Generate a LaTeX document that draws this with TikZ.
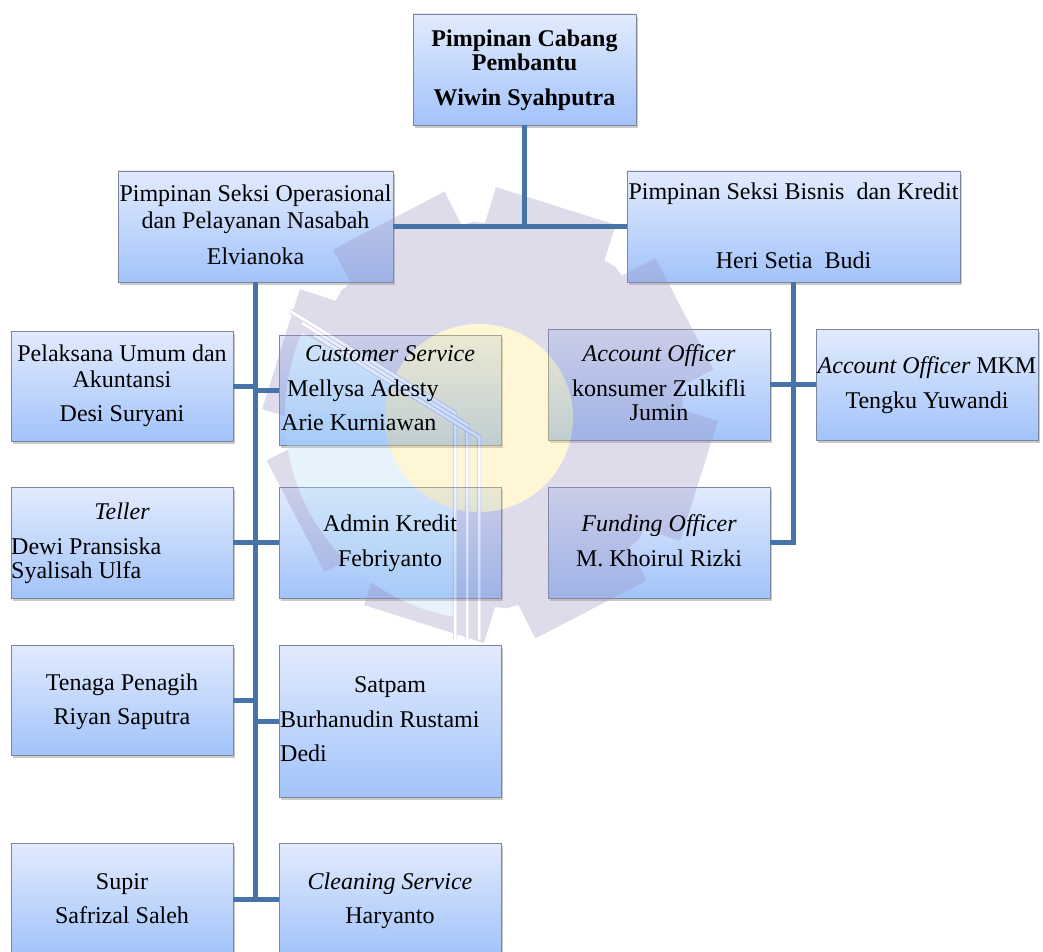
\documentclass[tikz,border=0pt]{standalone}
\usepackage{fontspec}
\setmainfont{Liberation Serif}
\usetikzlibrary{shadows,calc}
\definecolor{lnc}{RGB}{70,115,168}
\definecolor{btop}{RGB}{226,235,253}
\definecolor{bbot}{RGB}{162,195,250}
\definecolor{bbrd}{RGB}{125,135,155}
\definecolor{gearc}{RGB}{155,146,192}
\definecolor{yelc}{RGB}{255,229,127}
\definecolor{lbc}{RGB}{178,218,244}
\definecolor{strc}{RGB}{110,100,170}
\tikzset{
  bx/.style={draw=bbrd, line width=0.8pt, top color=btop, bottom color=bbot, inner sep=0pt,
    drop shadow={shadow xshift=2pt, shadow yshift=-3pt, opacity=0.35, fill=black!60}},
  tx/.style={anchor=base, inner sep=0pt, font=\fontsize{24}{27}\selectfont},
  txl/.style={tx, anchor=base west},
  txb/.style={tx, font=\fontsize{24}{27}\selectfont\bfseries},
  conn/.style={draw=lnc, line width=5pt},
}
\begin{document}
\begin{tikzpicture}[x=1pt,y=-1pt]
\useasboundingbox (0,0) rectangle (1043,952);
% boxes
\node[bx, minimum width=223pt, minimum height=111pt] (top) at (524.5,69.5) {};
\node[bx, minimum width=275pt, minimum height=111pt] (lsec) at (255.5,226.5) {};
\node[bx, minimum width=333pt, minimum height=111pt] (rsec) at (793.5,226.5) {};
\node[bx, minimum width=222pt, minimum height=110pt] (pel) at (122,386) {};
\node[bx, minimum width=222pt, minimum height=110pt] (cs) at (390,390) {};
\node[bx, minimum width=222pt, minimum height=111pt] (aok) at (659,384.5) {};
\node[bx, minimum width=222pt, minimum height=111pt] (aom) at (927,384.5) {};
\node[bx, minimum width=222pt, minimum height=111pt] (tel) at (122,542.5) {};
\node[bx, minimum width=222pt, minimum height=111pt] (adm) at (390,542.5) {};
\node[bx, minimum width=222pt, minimum height=111pt] (fund) at (659,542.5) {};
\node[bx, minimum width=222pt, minimum height=110pt] (ten) at (122,700) {};
\node[bx, minimum width=222pt, minimum height=152pt] (sat) at (390,721) {};
\node[bx, minimum width=222pt, minimum height=112pt] (sup) at (122,899) {};
\node[bx, minimum width=222pt, minimum height=112pt] (cln) at (390,899) {};
% watermark
\begin{scope}[shift={(490,415)}, yscale=-1, transparency group, opacity=0.33]
  \fill[gearc] (72.5-16:228)
    foreach \a in {72.5,117.5,...,432.5} { -- (\a-16:228) -- (\a+16:228) -- (\a+19:192) -- (\a+22.5:194) -- (\a+26:192) } -- cycle;
  \begin{scope}
    \clip (0,0) circle[radius=205];
    \fill[lbc] (-240,110) -- (-35,0) -- (-35,-240) -- (-240,-240) -- cycle;
  \end{scope}
  \fill[yelc] (-11,-3) circle[radius=94];
  \foreach \d in {0,12,24} {
    \draw[strc, line width=0.7pt, double=white, double distance=3pt]
      (-200+\d,104-\d) -- (-35+\d,2-\d) -- (-35+\d,-225);
  }
\end{scope}
% connectors
\draw[conn] (top.south) -- (top.south |- lsec.east);
\draw[conn] (lsec.east) -- (rsec.west);
\draw[conn] (lsec.south) -- (lsec.south |- sup.east);
\draw[conn] (pel.east) -- (pel.east -| lsec.south);
\draw[conn] (cs.west) -- (cs.west -| lsec.south);
\draw[conn] (tel.east) -- (tel.east -| lsec.south);
\draw[conn] (adm.west) -- (adm.west -| lsec.south);
\draw[conn] (ten.east) -- (ten.east -| lsec.south);
\draw[conn] (sat.west) -- (sat.west -| lsec.south);
\draw[conn] (sup.east) -- (sup.east -| lsec.south);
\draw[conn] (cln.west) -- (cln.west -| lsec.south);
\draw[conn] (rsec.south) -- (rsec.south |- fund.east) -- (fund.east);
\draw[conn] (aok.east) -- (aom.west);
% texts
\node[txb] (t1) at (524.5,47) {Pimpinan Cabang};
\node[txb] (t2) at (524.5,71) {Pembantu};
\node[txb] (t3) at (524.5,106) {Wiwin Syahputra};
\node[tx] (l1) at (255.5,201) {Pimpinan Seksi Operasional};
\node[tx] (l2) at (255.5,228) {dan Pelayanan Nasabah};
\node[tx] (l3) at (255.5,264) {Elvianoka};
\node[tx] (r1) at (793.5,199) {Pimpinan Seksi Bisnis\ \ dan Kredit};
\node[tx] (r2) at (793.5,268) {Heri Setia\ \ Budi};
\node[tx] (p1) at (122,361) {Pelaksana Umum dan};
\node[tx] (p2) at (122,387) {Akuntansi};
\node[tx] (p3) at (122,421) {Desi Suryani};
\node[tx] (c1) at (390,361) {\itshape Customer Service};
\node[txl] (c2) at (287,396) {Mellysa Adesty};
\node[txl] (c3) at (281,430) {Arie Kurniawan};
\node[tx] (k1) at (659,361) {\itshape Account Officer};
\node[tx] (k2) at (659,396) {konsumer Zulkifli};
\node[tx] (k3) at (659,420) {Jumin};
\node[tx] (m1) at (927,373) {\itshape Account Officer\upshape\ MKM};
\node[tx] (m2) at (927,408) {Tengku Yuwandi};
\node[tx] (e1) at (122,519) {\itshape Teller};
\node[txl] (e2) at (11,554) {Dewi Pransiska};
\node[txl] (e3) at (11,578) {Syalisah Ulfa};
\node[tx] (a1) at (390,531) {Admin Kredit};
\node[tx] (a2) at (390,566) {Febriyanto};
\node[tx] (f1) at (659,531) {\itshape Funding Officer};
\node[tx] (f2) at (659,566) {M. Khoirul Rizki};
\node[tx] (n1) at (122,690) {Tenaga Penagih};
\node[tx] (n2) at (122,724) {Riyan Saputra};
\node[tx] (s1) at (390,692) {Satpam};
\node[txl] (s2) at (280,727) {Burhanudin Rustami};
\node[txl] (s3) at (280,761) {Dedi};
\node[tx] (u1) at (122,889) {Supir};
\node[tx] (u2) at (122,923) {Safrizal Saleh};
\node[tx] (w1) at (390,889) {\itshape Cleaning Service};
\node[tx] (w2) at (390,923) {Haryanto};
\end{tikzpicture}
\end{document}
